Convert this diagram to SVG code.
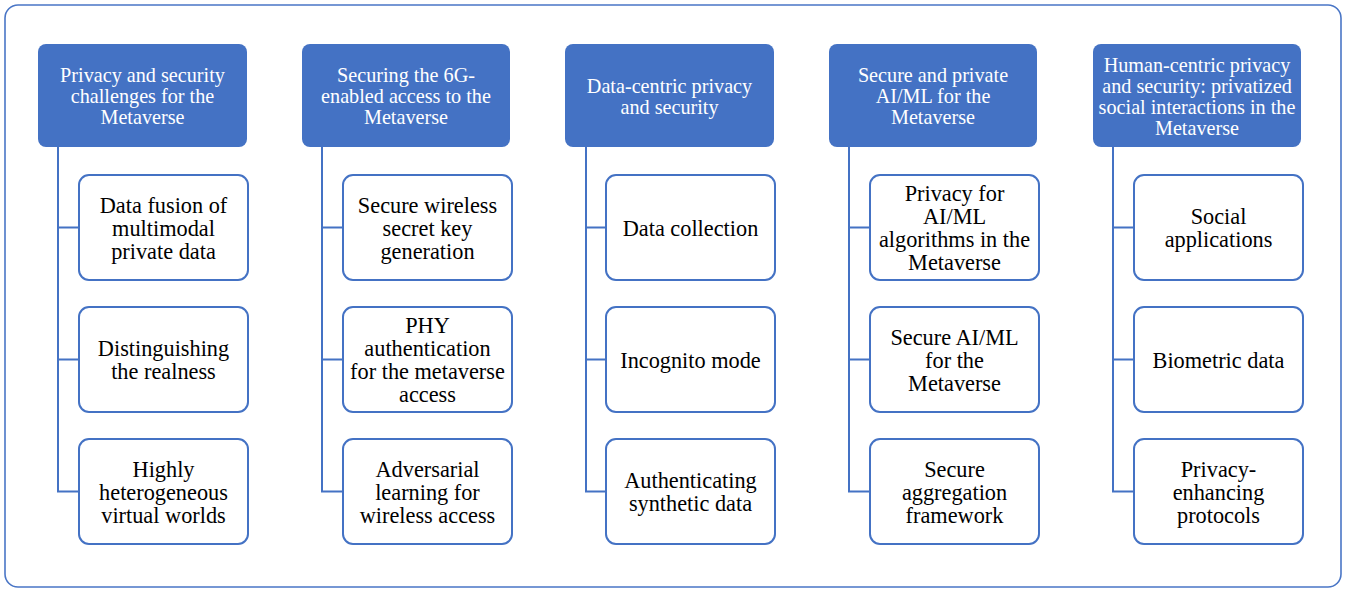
<svg xmlns="http://www.w3.org/2000/svg" width="1346" height="589" viewBox="0 0 1346 589">
<style>
.frame{fill:#fff;stroke:#4a76c6;stroke-width:1.6}
.hdr{fill:#4472C4;stroke:none}
.ht{fill:#fff;font-family:"Liberation Serif","Times New Roman",serif;font-size:20.2px;text-anchor:middle;dominant-baseline:central}
.box{fill:#fff;stroke:#4472C4;stroke-width:2}
.bt{fill:#000;font-family:"Liberation Serif","Times New Roman",serif;font-size:22.3px;text-anchor:middle;dominant-baseline:central}
.conn{fill:none;stroke:#4472C4;stroke-width:2}
</style>
<rect class="frame" x="5" y="5" width="1336" height="582" rx="13"/>
<g id="connectors">
<path class="conn" d="M58 147V491.5H79M58 227.5H79M58 359.5H79"/>
<path class="conn" d="M322 147V491.5H343M322 227.5H343M322 359.5H343"/>
<path class="conn" d="M586 147V491.5H606M586 227.5H606M586 359.5H606"/>
<path class="conn" d="M849 147V491.5H870M849 227.5H870M849 359.5H870"/>
<path class="conn" d="M1113 147V491.5H1134M1113 227.5H1134M1113 359.5H1134"/>
</g>
<g id="h1"><rect class="hdr" x="38" y="44" width="209" height="103" rx="8"/><text class="ht"><tspan x="142.5" y="75">Privacy and security</tspan><tspan x="142.5" y="96">challenges for the</tspan><tspan x="142.5" y="117">Metaverse</tspan></text></g>
<g id="h2"><rect class="hdr" x="302" y="44" width="208" height="103" rx="8"/><text class="ht"><tspan x="406" y="75">Securing the 6G-</tspan><tspan x="406" y="96">enabled access to the</tspan><tspan x="406" y="117">Metaverse</tspan></text></g>
<g id="h3"><rect class="hdr" x="565" y="44" width="209" height="103" rx="8"/><text class="ht"><tspan x="669.5" y="85.5">Data-centric privacy</tspan><tspan x="669.5" y="106.5">and security</tspan></text></g>
<g id="h4"><rect class="hdr" x="829" y="44" width="208" height="103" rx="8"/><text class="ht"><tspan x="933" y="75">Secure and private</tspan><tspan x="933" y="96">AI/ML for the</tspan><tspan x="933" y="117">Metaverse</tspan></text></g>
<g id="h5"><rect class="hdr" x="1093" y="44" width="208" height="103" rx="8"/><text class="ht"><tspan x="1197" y="65">Human-centric privacy</tspan><tspan x="1197" y="85.5">and security: privatized</tspan><tspan x="1197" y="106.5">social interactions in the</tspan><tspan x="1197" y="127.5">Metaverse</tspan></text></g>

<g id="c1a"><rect class="box" x="79" y="175" width="169" height="105" rx="10"/><text class="bt"><tspan x="163.5" y="205">Data fusion of</tspan><tspan x="163.5" y="228">multimodal</tspan><tspan x="163.5" y="251">private data</tspan></text></g>
<g id="c1b"><rect class="box" x="79" y="307" width="169" height="105" rx="10"/><text class="bt"><tspan x="163.5" y="348">Distinguishing</tspan><tspan x="163.5" y="371">the realness</tspan></text></g>
<g id="c1c"><rect class="box" x="79" y="439" width="169" height="105" rx="10"/><text class="bt"><tspan x="163.5" y="469">Highly</tspan><tspan x="163.5" y="492">heterogeneous</tspan><tspan x="163.5" y="515">virtual worlds</tspan></text></g>

<g id="c2a"><rect class="box" x="343" y="175" width="169" height="105" rx="10"/><text class="bt"><tspan x="427.5" y="205">Secure wireless</tspan><tspan x="427.5" y="228">secret key</tspan><tspan x="427.5" y="251">generation</tspan></text></g>
<g id="c2b"><rect class="box" x="343" y="307" width="169" height="105" rx="10"/><text class="bt"><tspan x="427.5" y="325">PHY</tspan><tspan x="427.5" y="348">authentication</tspan><tspan x="427.5" y="371">for the metaverse</tspan><tspan x="427.5" y="394">access</tspan></text></g>
<g id="c2c"><rect class="box" x="343" y="439" width="169" height="105" rx="10"/><text class="bt"><tspan x="427.5" y="469">Adversarial</tspan><tspan x="427.5" y="492">learning for</tspan><tspan x="427.5" y="515">wireless access</tspan></text></g>

<g id="c3a"><rect class="box" x="606" y="175" width="169" height="105" rx="10"/><text class="bt"><tspan x="690.5" y="228">Data collection</tspan></text></g>
<g id="c3b"><rect class="box" x="606" y="307" width="169" height="105" rx="10"/><text class="bt"><tspan x="690.5" y="360">Incognito mode</tspan></text></g>
<g id="c3c"><rect class="box" x="606" y="439" width="169" height="105" rx="10"/><text class="bt"><tspan x="690.5" y="480">Authenticating</tspan><tspan x="690.5" y="503">synthetic data</tspan></text></g>

<g id="c4a"><rect class="box" x="870" y="175" width="169" height="105" rx="10"/><text class="bt"><tspan x="954.5" y="193">Privacy for</tspan><tspan x="954.5" y="216">AI/ML</tspan><tspan x="954.5" y="239">algorithms in the</tspan><tspan x="954.5" y="262">Metaverse</tspan></text></g>
<g id="c4b"><rect class="box" x="870" y="307" width="169" height="105" rx="10"/><text class="bt"><tspan x="954.5" y="337">Secure AI/ML</tspan><tspan x="954.5" y="360">for the</tspan><tspan x="954.5" y="383">Metaverse</tspan></text></g>
<g id="c4c"><rect class="box" x="870" y="439" width="169" height="105" rx="10"/><text class="bt"><tspan x="954.5" y="469">Secure</tspan><tspan x="954.5" y="492">aggregation</tspan><tspan x="954.5" y="515">framework</tspan></text></g>

<g id="c5a"><rect class="box" x="1134" y="175" width="169" height="105" rx="10"/><text class="bt"><tspan x="1218.5" y="216">Social</tspan><tspan x="1218.5" y="239">applications</tspan></text></g>
<g id="c5b"><rect class="box" x="1134" y="307" width="169" height="105" rx="10"/><text class="bt"><tspan x="1218.5" y="360">Biometric data</tspan></text></g>
<g id="c5c"><rect class="box" x="1134" y="439" width="169" height="105" rx="10"/><text class="bt"><tspan x="1218.5" y="469">Privacy-</tspan><tspan x="1218.5" y="492">enhancing</tspan><tspan x="1218.5" y="515">protocols</tspan></text></g>
</svg>
